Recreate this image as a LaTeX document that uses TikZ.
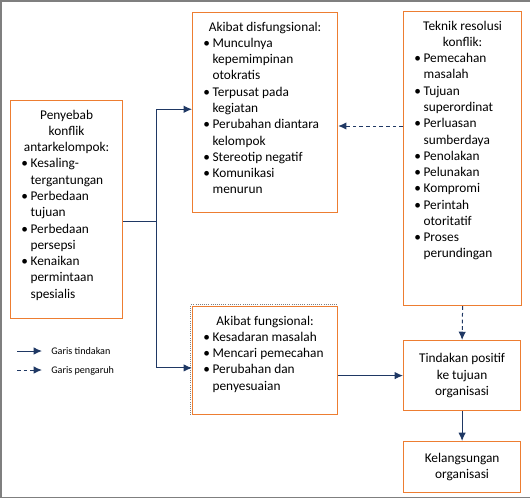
\documentclass[tikz,border=0pt]{standalone}
\usepackage{fontspec}
\setmainfont{Carlito}
\usetikzlibrary{arrows.meta}
\definecolor{garisbiru}{HTML}{1F3864}
\definecolor{oranye}{HTML}{ED7D31}
\definecolor{bingkai}{HTML}{7F7F7F}
\tikzstyle{block} = [draw=oranye, line width=0.9pt, rectangle, anchor=north west, inner xsep=8pt, inner ysep=7pt, font=\fontsize{10}{12.2}\selectfont]
\tikzstyle{hasil} = [draw=oranye, line width=0.9pt, rectangle, anchor=north west, align=center, minimum width=87.75pt, font=\fontsize{10}{12.6}\selectfont]
\tikzstyle{tindak} = [draw=garisbiru, line width=0.75pt, ->]
\tikzstyle{pengaruh} = [tindak, dash pattern=on 2.8pt off 2.2pt]
\tikzstyle{ket} = [anchor=west, inner sep=0pt, font=\fontsize{7.6}{8}\selectfont]

\newcommand{\isikotak}[3]{\parbox[t][#2][t]{#1}{#3}}
\newcommand{\judul}[1]{{\centering #1\par}}
\newcommand{\butir}[1]{\par\raggedright\hangindent=7pt\hangafter=1\noindent\makebox[7pt][l]{\textbullet}#1\par}

\begin{document}
\begin{tikzpicture}[x=0.75pt, y=-0.75pt, >={Latex[length=6.2pt,width=5.5pt]}]
	\useasboundingbox (0,0) rectangle (530,499);
	% bingkai luar
	\draw[bingkai, line width=1pt] (531,1) -- (1,1) -- (1,497.5) -- (531,497.5);

	% kotak-kotak
	\node [block] (penyebab) at (10,100) {\isikotak{68pt}{149.5pt}{%
		\judul{Penyebab\\konflik\\antarkelompok:}
		\butir{Kesaling-\newline tergantungan}
		\butir{Perbedaan\newline tujuan}
		\butir{Perbedaan\newline persepsi}
		\butir{Kenaikan\newline permintaan\newline spesialis}}};
	\node [block] (disfungsi) at (192,12) {\isikotak{92.75pt}{136pt}{%
		\judul{Akibat disfungsional:}
		\butir{Munculnya\newline kepemimpinan\newline otokratis}
		\butir{Terpusat pada\newline kegiatan}
		\butir{Perubahan diantara\newline kelompok}
		\butir{Stereotip negatif}
		\butir{Komunikasi\newline menurun}}};
	\node [block] (teknik) at (403,11) {\isikotak{72.5pt}{206.5pt}{%
		\judul{Teknik resolusi\\konflik:}
		\butir{Pemecahan\newline masalah}
		\butir{Tujuan\newline superordinat}
		\butir{Perluasan\newline sumberdaya}
		\butir{Penolakan}
		\butir{Pelunakan}
		\butir{Kompromi}
		\butir{Perintah\newline otoritatif}
		\butir{Proses\newline perundingan}}};
	\node [block] (fungsi) at (192,306) {\isikotak{92.75pt}{67pt}{%
		\judul{Akibat fungsional:}
		\butir{Kesadaran masalah}
		\butir{Mencari pemecahan}
		\butir{Perubahan dan\newline penyesuaian}}};
	\draw[bingkai, densely dotted, line width=0.6pt] ([xshift=-0.9pt]fungsi.south west) -- ([shift={(-0.9pt,0.9pt)}]fungsi.north west) -- ([yshift=0.9pt]fungsi.north east);
	\node [hasil, minimum height=52.5pt] (tindakan) at (403,340) {Tindakan positif\\ke tujuan\\organisasi};
	\node [hasil, minimum height=38.25pt] (kelangsungan) at (403,441) {Kelangsungan\\organisasi};

	% garis tindakan
	\coordinate (cabang) at (156,221);
	\draw [tindak, -] (cabang -| penyebab.east) -- (cabang);
	\draw [tindak] (cabang) |- ([yshift=2.5pt]disfungsi.west);
	\draw [tindak] (cabang) |- ([yshift=-5.5pt]fungsi.west);
	\draw [tindak] (fungsi.east |- tindakan.west) -- (tindakan.west);
	\draw [tindak] (tindakan.south) -- (kelangsungan.north);

	% garis pengaruh
	\draw [pengaruh] (teknik.west |- 0,126) -- (disfungsi.east |- 0,126);
	\draw [pengaruh] (teknik.south) -- (tindakan.north);

	% keterangan
	\coordinate (ktA) at (17,351);
	\coordinate (ktB) at (42,351);
	\coordinate (kpA) at (17,370);
	\coordinate (kpB) at (42,370);
	\draw [tindak] (ktA) -- (ktB);
	\draw [pengaruh] (kpA) -- (kpB);
	\node [ket] (ketTindakan) at (51,351) {Garis tindakan};
	\node [ket] (ketPengaruh) at (51,370.5) {Garis pengaruh};
\end{tikzpicture}
\end{document}
